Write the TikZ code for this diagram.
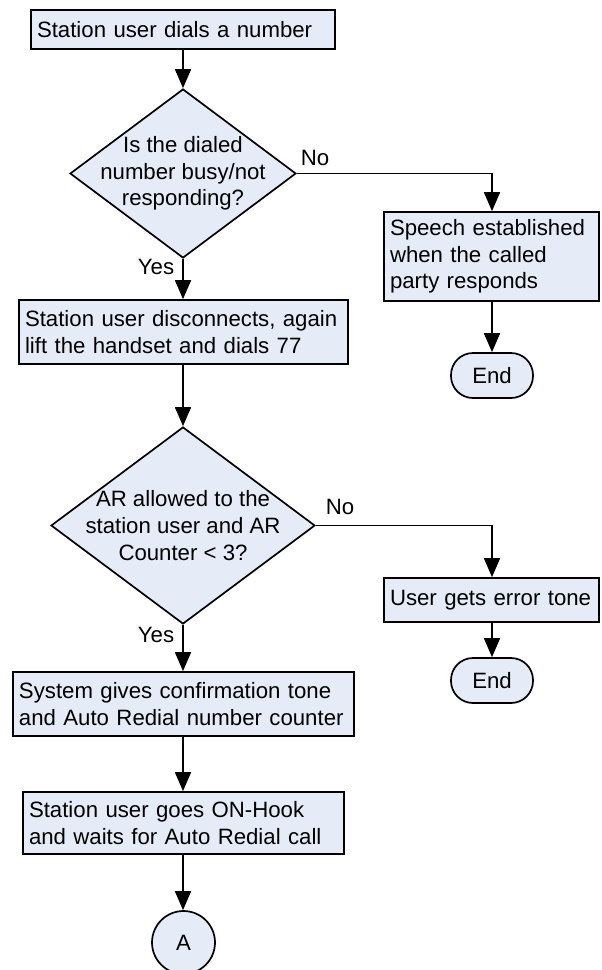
\documentclass[tikz,border=0pt]{standalone}
\usepackage{fontspec}
\setmainfont{Liberation Sans}
\usetikzlibrary{arrows.meta,shapes.geometric}
\definecolor{boxfill}{RGB}{230,236,247}
\begin{document}
\begin{tikzpicture}[x=1pt,y=-1pt,
  font=\fontsize{22.2}{26.7}\selectfont,
  line width=1.7pt,
  proc/.style={draw, fill=boxfill, rectangle, align=left, inner xsep=6pt, inner ysep=0pt},
  decision/.style={draw, fill=boxfill, diamond, inner sep=0pt},
  dtext/.style={align=center, inner sep=0pt},
  term/.style={draw, fill=boxfill, rectangle, rounded corners=22pt, minimum width=82pt, minimum height=45pt, inner sep=0pt},
  conn/.style={draw, fill=boxfill, circle, minimum size=63pt, inner sep=0pt},
  flow/.style={-{Triangle[length=19pt,width=16pt]}},
  lbl/.style={inner sep=0pt}
]
\useasboundingbox (0,0) rectangle (602,970);

% main column
\node[proc, text width=292pt, minimum height=39pt] (b1) at (183,29.5) {Station user dials a number};
\node[decision, minimum width=226pt, minimum height=169pt] (d1) at (183,173.5) {};
\node[dtext] (d1t) at (d1.center) {Is the dialed\\number busy/not\\responding?};
\node[proc, text width=317pt, minimum height=64pt] (b3) at (183.5,332) {Station user disconnects, again\\lift the handset and dials 77};
\node[decision, minimum width=264pt, minimum height=197pt] (d2) at (183,525.5) {};
\node[dtext] (d2t) at (d2.center) {AR allowed to the\\station user and AR\\Counter < 3?};
\node[proc, text width=329pt, minimum height=64pt] (b4) at (183.5,704) {System gives confirmation tone\\and Auto Redial number counter};
\node[proc, text width=309pt, minimum height=62pt] (b5) at (183.5,823) {Station user goes ON-Hook\\and waits for Auto Redial call};
\node[conn] (ca) at (183.5,942.5) {A};

% right column
\node[proc, text width=203pt, minimum height=89pt] (b2) at (491.5,256.5) {Speech established\\when the called\\party responds};
\node[term] (e1) at (492,375.5) {End};
\node[proc, text width=203pt, minimum height=44pt] (b6) at (491.5,600) {User gets error tone};
\node[term] (e2) at (492,680.5) {End};

% branch labels
\node[lbl] (no1) at (315,158) {No};
\node[lbl] (yes1) at (156,267) {Yes};
\node[lbl] (no2) at (340,507) {No};
\node[lbl] (yes2) at (156,635) {Yes};

% connectors
\draw[flow] (b1.south -| d1.north) -- (d1.north);
\draw[flow] (d1.south) -- (d1.south |- b3.north);
\draw[flow] (d1.south |- b3.south) -- (d2.north);
\draw[flow] (d2.south) -- (d2.south |- b4.north);
\draw[flow] (d2.south |- b4.south) -- (d2.south |- b5.north);
\draw[flow] (d2.south |- b5.south) -- (d2.south |- ca.north);
\draw[flow] (d1.east) -| (e1.north |- b2.north);
\draw[flow] (e1.north |- b2.south) -- (e1.north);
\draw[flow] (d2.east) -| (e2.north |- b6.north);
\draw[flow] (e2.north |- b6.south) -- (e2.north);
\end{tikzpicture}
\end{document}
